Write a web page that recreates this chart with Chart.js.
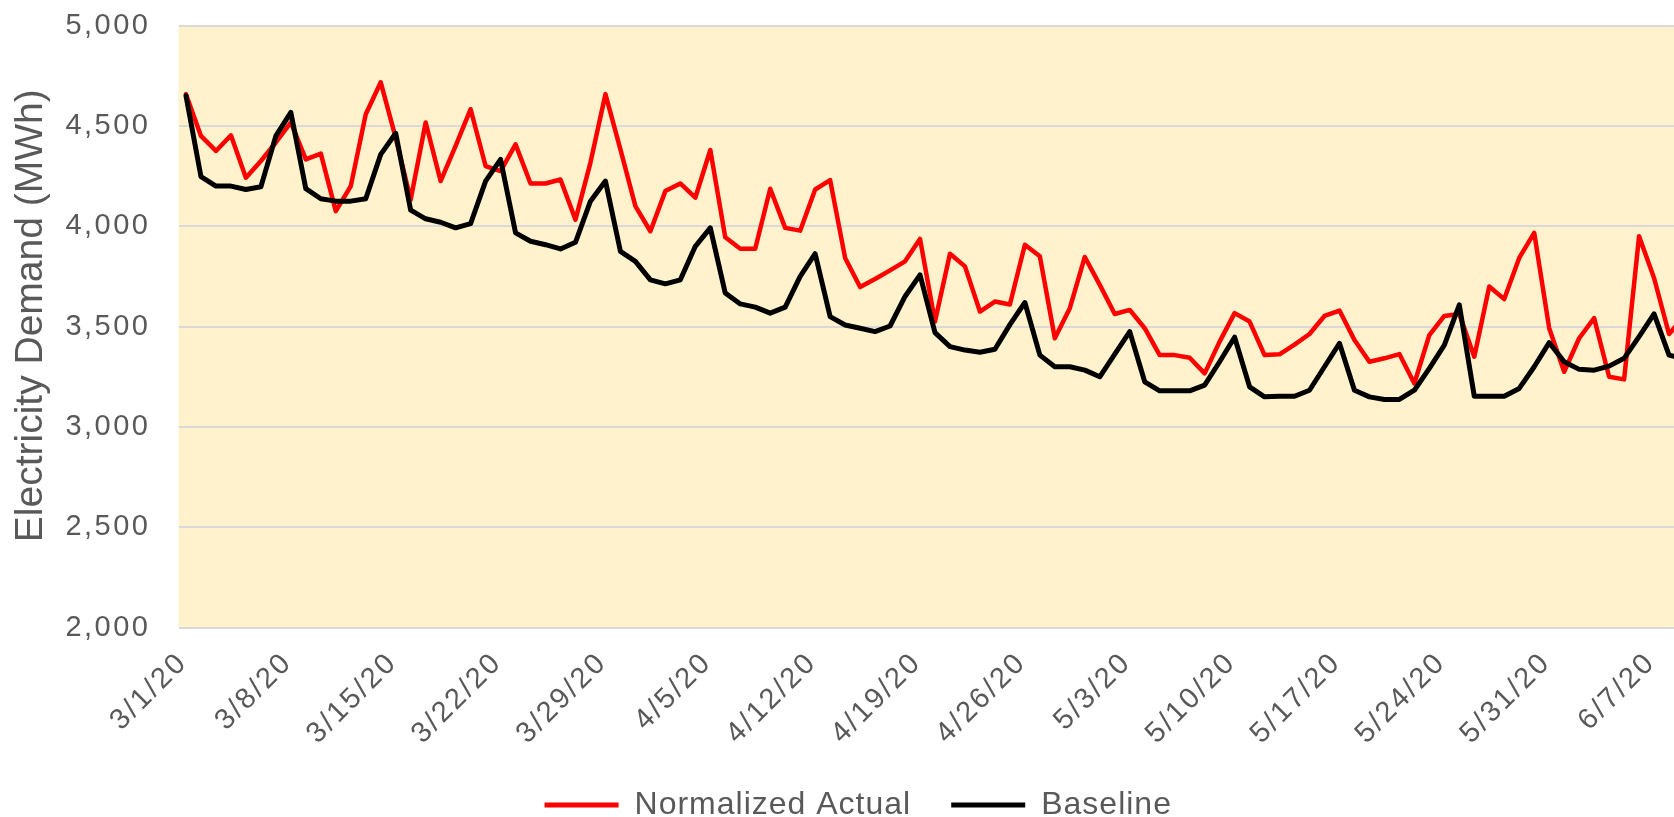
<!DOCTYPE html>
<html>
<head>
<meta charset="utf-8">
<script src="https://cdn.jsdelivr.net/npm/chart.js@4.4.1/dist/chart.umd.min.js"></script>
<style>
html,body{margin:0;padding:0;background:#ffffff;overflow:hidden;width:1674px;height:817px}
#wrap{position:absolute;left:0;top:0;width:1720px;height:817px}
</style>
</head>
<body>
<div id="wrap"><canvas id="c"></canvas></div>
<script>
const dates = [
 '3/1/20','3/2/20','3/3/20','3/4/20','3/5/20','3/6/20','3/7/20','3/8/20','3/9/20','3/10/20',
 '3/11/20','3/12/20','3/13/20','3/14/20','3/15/20','3/16/20','3/17/20','3/18/20','3/19/20','3/20/20',
 '3/21/20','3/22/20','3/23/20','3/24/20','3/25/20','3/26/20','3/27/20','3/28/20','3/29/20','3/30/20',
 '3/31/20','4/1/20','4/2/20','4/3/20','4/4/20','4/5/20','4/6/20','4/7/20','4/8/20','4/9/20',
 '4/10/20','4/11/20','4/12/20','4/13/20','4/14/20','4/15/20','4/16/20','4/17/20','4/18/20','4/19/20',
 '4/20/20','4/21/20','4/22/20','4/23/20','4/24/20','4/25/20','4/26/20','4/27/20','4/28/20','4/29/20',
 '4/30/20','5/1/20','5/2/20','5/3/20','5/4/20','5/5/20','5/6/20','5/7/20','5/8/20','5/9/20',
 '5/10/20','5/11/20','5/12/20','5/13/20','5/14/20','5/15/20','5/16/20','5/17/20','5/18/20','5/19/20',
 '5/20/20','5/21/20','5/22/20','5/23/20','5/24/20','5/25/20','5/26/20','5/27/20','5/28/20','5/29/20',
 '5/30/20','5/31/20','6/1/20','6/2/20','6/3/20','6/4/20','6/5/20','6/6/20','6/7/20','6/8/20',
 '6/9/20'
];
const tickLabels = ['3/1/20','3/8/20','3/15/20','3/22/20','3/29/20','4/5/20','4/12/20','4/19/20',
 '4/26/20','5/3/20','5/10/20','5/17/20','5/24/20','5/31/20','6/7/20'];
const normalizedActual = [
 4658,4450,4375,4453,4242,4325,4417,4517,4333,4362,
 4075,4200,4558,4717,4440,4133,4517,4225,4400,4583,
 4300,4275,4408,4213,4213,4233,4033,4317,4658,4383,
 4100,3975,4175,4213,4142,4380,3945,3888,3888,4187,
 3992,3978,4183,4230,3842,3697,3737,3780,3825,3937,
 3525,3863,3800,3575,3625,3610,3908,3850,3442,3592,
 3847,3708,3563,3583,3492,3358,3358,3345,3267,3425,
 3567,3525,3358,3362,3410,3463,3553,3580,3433,3325,
 3342,3363,3217,3458,3553,3563,3350,3700,3637,3842,
 3967,3492,3275,3442,3542,3250,3237,3950,3742,3463,
 3550
];
const baseline = [
 4650,4247,4200,4200,4183,4197,4450,4567,4187,4137,
 4125,4125,4137,4358,4463,4080,4037,4020,3992,4013,
 4225,4333,3967,3925,3908,3887,3920,4125,4225,3875,
 3825,3733,3713,3733,3900,3992,3667,3613,3597,3567,
 3597,3750,3863,3550,3508,3492,3475,3503,3650,3758,
 3470,3400,3383,3372,3387,3510,3620,3358,3300,3300,
 3283,3250,3363,3475,3225,3180,3180,3180,3208,3325,
 3447,3200,3150,3153,3153,3183,3300,3417,3183,3150,
 3137,3137,3183,3292,3408,3608,3153,3153,3153,3192,
 3300,3420,3325,3287,3283,3303,3342,3450,3563,3358,
 3340
];
const seriesNames = ['Normalized Actual', 'Baseline'];
const yMin = 2000, yMax = 5000, yStep = 500;

const FONT = 'Liberation Sans';
const TEXT = '#595959';

const plotBg = {
  id: 'plotBg',
  beforeDraw(chart) {
    const {ctx, chartArea: a} = chart;
    ctx.save();
    ctx.fillStyle = '#FFF2CC';
    ctx.fillRect(a.left, a.top, a.right - a.left, a.bottom - a.top);
    ctx.restore();
  }
};

const spacing = {
  id: 'spacing',
  beforeLayout(chart) { chart.ctx.letterSpacing = '1px'; },
  beforeDraw(chart) {
    chart.ctx.letterSpacing = '1px';
    for (const id of ['x', 'y']) {
      const s = chart.scales[id];
      if (s && !s._patched) {
        const dl = s.drawLabels.bind(s);
        s.drawLabels = function (a) {
          const c = this.ctx, prev = c.letterSpacing;
          c.letterSpacing = '2.5px'; dl(a); c.letterSpacing = prev;
        };
        const dt = s.drawTitle.bind(s);
        s.drawTitle = function (a) {
          const c = this.ctx, prev = c.letterSpacing;
          c.letterSpacing = '0px'; dt(a); c.letterSpacing = prev;
        };
        s._patched = true;
      }
    }
  }
};

new Chart(document.getElementById('c'), {
  type: 'line',
  data: {
    labels: dates,
    datasets: [
      {label: seriesNames[0], data: normalizedActual, borderColor: '#FF0000', backgroundColor: '#FF0000',
       borderWidth: 4.5, pointRadius: 0, pointHoverRadius: 0, tension: 0, order: 2,
       borderJoinStyle: 'round', borderCapStyle: 'round'},
      {label: seriesNames[1], data: baseline, borderColor: '#000000', backgroundColor: '#000000',
       borderWidth: 5, pointRadius: 0, pointHoverRadius: 0, tension: 0, order: 1,
       borderJoinStyle: 'round', borderCapStyle: 'round'}
    ]
  },
  options: {
    responsive: true,
    maintainAspectRatio: false,
    animation: false,
    devicePixelRatio: 1,
    layout: {padding: {top: 25.5, right: 28.5, bottom: -14, left: 25}},
    plugins: {
      tooltip: {enabled: false},
      legend: {
        position: 'bottom',
        labels: {
          font: {family: FONT, size: 32},
          color: TEXT,
          boxWidth: 74,
          boxHeight: 5,
          padding: 40,
          sort: (a, b) => a.datasetIndex - b.datasetIndex,
          generateLabels(chart) {
            const items = Chart.defaults.plugins.legend.labels.generateLabels(chart);
            items.forEach(it => { it.lineWidth = 0; it.fillStyle = it.strokeStyle; });
            return items;
          }
        }
      }
    },
    scales: {
      x: {
        type: 'category',
        offset: true,
        grid: {display: false, drawTicks: false},
        border: {display: false},
        ticks: {
          autoSkip: false,
          minRotation: 45,
          maxRotation: 45,
          padding: 18,
          labelOffset: -3,
          color: TEXT,
          font: {family: FONT, size: 29},
          callback(v, i) { const l = dates[i]; return tickLabels.includes(l) ? l : ''; }
        },
        afterFit(s) { s.height = 121.3; s.paddingLeft = 0; s.paddingRight = 0; }
      },
      y: {
        min: yMin,
        max: yMax,
        grid: {color: '#D9D9D9', lineWidth: 2, drawTicks: false},
        border: {display: false},
        ticks: {
          stepSize: yStep,
          padding: 28,
          color: TEXT,
          font: {family: FONT, size: 29},
          callback: v => v.toLocaleString('en-US')
        },
        title: {
          display: true,
          text: '  Electricity Demand (MWh)',
          color: TEXT,
          font: {family: FONT, size: 39},
          padding: {top: -17, bottom: 0}
        },
        afterFit(s) { s.width = 153.5; s.paddingTop = 0; s.paddingBottom = 0; }
      }
    }
  },
  plugins: [plotBg, spacing]
});
</script>
</body>
</html>
